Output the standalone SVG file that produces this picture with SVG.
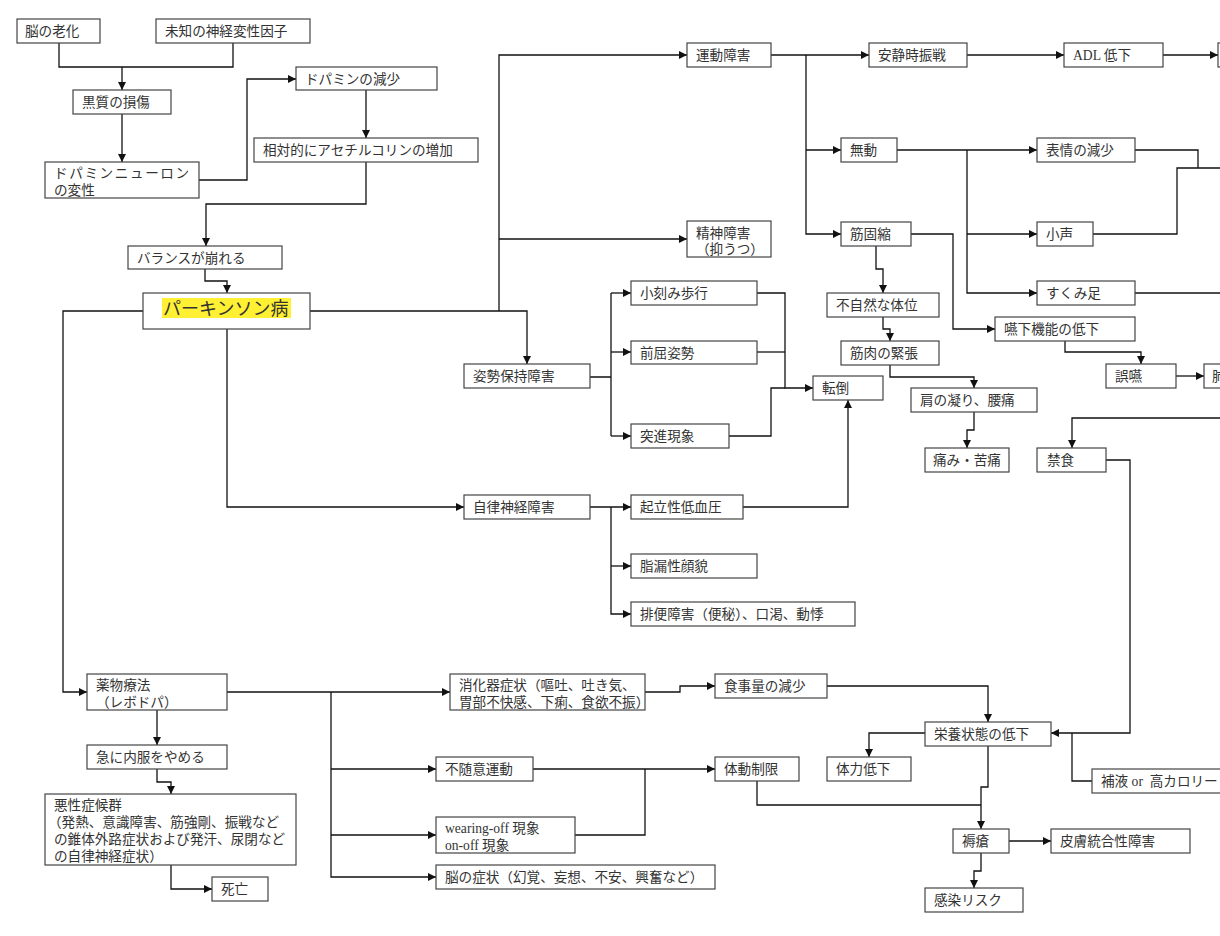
<svg xmlns="http://www.w3.org/2000/svg" width="1220" height="936" viewBox="0 0 1220 936">
<style>
.b{fill:#fff;stroke:#444;stroke-width:1.2}
.t{font-family:"Liberation Serif","Noto Sans CJK JP",sans-serif;font-size:13.6px;fill:#333}
.c{fill:none;stroke:#111;stroke-width:1.3}
.a{marker-end:url(#ah)}
</style>
<defs>
<marker id="ah" markerUnits="userSpaceOnUse" markerWidth="9" markerHeight="9" refX="8" refY="4" orient="auto"><path d="M0,0 L8,4 L0,8 z" fill="#111"/></marker>
</defs>
<rect width="1220" height="936" fill="#fff"/>
<g id="connectors">
<path class="c" d="M59,43 V67 H233 V43"/>
<path class="c a" d="M122,67 V90"/>
<path class="c a" d="M122,114 V162"/>
<path class="c a" d="M199,180 H247 V79 H296"/>
<path class="c a" d="M366,90 V138"/>
<path class="c a" d="M366,162 V204 H206 V246"/>
<path class="c a" d="M205,269 V281 H227 V293"/>
<path class="c a" d="M143,311 H63 V692 H87"/>
<path class="c a" d="M227,329 V507 H464"/>
<path class="c a" d="M310,311 H527 V364"/>
<path class="c a" d="M499,311 V55 H687"/>
<path class="c a" d="M499,239 H687"/>
<path class="c a" d="M771,55 H869"/>
<path class="c a" d="M806,55 V234 H841"/>
<path class="c a" d="M806,150 H841"/>
<path class="c a" d="M967,55 H1064"/>
<path class="c a" d="M1163,55 H1218"/>
<path class="c a" d="M897,150 H1037"/>
<path class="c a" d="M967,150 V293 H1037"/>
<path class="c a" d="M967,234 H1037"/>
<path class="c" d="M1135,150 H1198 V168"/>
<path class="c" d="M1093,234 H1177 V168 H1220"/>
<path class="c" d="M1135,293 H1220"/>
<path class="c a" d="M911,234 H953 V329 H995"/>
<path class="c a" d="M876,246 V269 H883 V293"/>
<path class="c a" d="M883,317 V329 H890 V341"/>
<path class="c a" d="M890,365 V377 H974 V388"/>
<path class="c a" d="M974,412 V430 H967 V448"/>
<path class="c a" d="M1065,341 V352 H1141 V364"/>
<path class="c a" d="M1176,376 H1204"/>
<path class="c a" d="M1220,418 H1072 V448"/>
<path class="c a" d="M1106,460 H1130 V733 H1051"/>
<path class="c" d="M1092,781 H1072 V733"/>
<path class="c" d="M590,377 H611 M611,293 V436"/>
<path class="c a" d="M611,293 H631"/>
<path class="c a" d="M611,352 H631"/>
<path class="c a" d="M611,436 H631"/>
<path class="c a" d="M757,293 H785 V388 H813"/>
<path class="c" d="M757,352 H785"/>
<path class="c" d="M729,436 H771 V388 H785"/>
<path class="c a" d="M590,507 H631"/>
<path class="c a" d="M611,507 V614 H631"/>
<path class="c a" d="M611,566 H631"/>
<path class="c a" d="M743,507 H848 V400"/>
<path class="c a" d="M227,692 H450"/>
<path class="c a" d="M331,692 V877 H436"/>
<path class="c a" d="M331,769 H436"/>
<path class="c a" d="M331,835 H436"/>
<path class="c a" d="M157,710 V745"/>
<path class="c a" d="M157,769 V782 H171 V794"/>
<path class="c a" d="M171,865 V889 H212"/>
<path class="c a" d="M645,692 H680 V686 H715"/>
<path class="c a" d="M827,686 H988 V722"/>
<path class="c a" d="M533,769 H715"/>
<path class="c" d="M575,835 H645 V769"/>
<path class="c" d="M757,781 V805 H981"/>
<path class="c a" d="M988,746 V787 H981 V829"/>
<path class="c a" d="M925,733 H869 V757"/>
<path class="c a" d="M1009,841 H1051"/>
<path class="c a" d="M981,853 V871 H974 V888"/>
</g>
<g id="n1"><rect class="b" x="17" y="19" width="83" height="24"/><text class="t" x="25" y="36">脳の老化</text></g>
<g id="n2"><rect class="b" x="156" y="19" width="154" height="24"/><text class="t" x="165" y="36">未知の神経変性因子</text></g>
<g id="n3"><rect class="b" x="73" y="90" width="98" height="24"/><text class="t" x="82" y="107">黒質の損傷</text></g>
<g id="n4"><rect class="b" x="45" y="162" width="154" height="36"/><text class="t" x="54" y="178" letter-spacing="1.6">ドパミンニューロン</text><text class="t" x="54" y="195">の変性</text></g>
<g id="n5"><rect class="b" x="296" y="67" width="141" height="23"/><text class="t" x="305" y="84">ドパミンの減少</text></g>
<g id="n6"><rect class="b" x="254" y="138" width="224" height="24"/><text class="t" x="263" y="155">相対的にアセチルコリンの増加</text></g>
<g id="n7"><rect class="b" x="128" y="246" width="154" height="23"/><text class="t" x="137" y="263">バランスが崩れる</text></g>
<g id="n8"><rect class="b" x="143" y="293" width="167" height="36"/><rect x="162" y="298" width="129" height="20" fill="#fff033"/><text class="t" x="163" y="315" style="font-size:18px">パーキンソン病</text></g>
<g id="n9"><rect class="b" x="687" y="43" width="84" height="24"/><text class="t" x="696" y="60">運動障害</text></g>
<g id="n10"><rect class="b" x="687" y="221" width="84" height="36"/><text class="t" x="696" y="238">精神障害</text><text class="t" x="696" y="254">（抑うつ）</text></g>
<g id="n11"><rect class="b" x="869" y="43" width="98" height="24"/><text class="t" x="878" y="60">安静時振戦</text></g>
<g id="n12"><rect class="b" x="1064" y="43" width="99" height="24"/><text class="t" x="1073" y="60">ADL 低下</text></g>
<g id="n13"><rect class="b" x="1218" y="43" width="20" height="24"/></g>
<g id="n14"><rect class="b" x="841" y="138" width="56" height="24"/><text class="t" x="850" y="155">無動</text></g>
<g id="n15"><rect class="b" x="841" y="222" width="70" height="24"/><text class="t" x="850" y="239">筋固縮</text></g>
<g id="n16"><rect class="b" x="1037" y="138" width="98" height="24"/><text class="t" x="1046" y="155">表情の減少</text></g>
<g id="n17"><rect class="b" x="1037" y="222" width="56" height="24"/><text class="t" x="1046" y="239">小声</text></g>
<g id="n18"><rect class="b" x="1037" y="281" width="98" height="24"/><text class="t" x="1046" y="298">すくみ足</text></g>
<g id="n19"><rect class="b" x="827" y="293" width="112" height="24"/><text class="t" x="836" y="310">不自然な体位</text></g>
<g id="n20"><rect class="b" x="995" y="317" width="140" height="24"/><text class="t" x="1004" y="334">嚥下機能の低下</text></g>
<g id="n21"><rect class="b" x="841" y="341" width="98" height="24"/><text class="t" x="850" y="358">筋肉の緊張</text></g>
<g id="n22"><rect class="b" x="813" y="376" width="70" height="24"/><text class="t" x="822" y="393">転倒</text></g>
<g id="n23"><rect class="b" x="911" y="388" width="126" height="24"/><text class="t" x="920" y="405">肩の凝り、腰痛</text></g>
<g id="n24"><rect class="b" x="925" y="448" width="84" height="24"/><text class="t" x="933" y="465">痛み・苦痛</text></g>
<g id="n25"><rect class="b" x="1106" y="364" width="70" height="24"/><text class="t" x="1115" y="381">誤嚥</text></g>
<g id="n26"><rect class="b" x="1204" y="364" width="30" height="24"/><text class="t" x="1212" y="381">肺</text></g>
<g id="n27"><rect class="b" x="1037" y="448" width="69" height="24"/><text class="t" x="1047" y="465">禁食</text></g>
<g id="n28"><rect class="b" x="464" y="364" width="126" height="24"/><text class="t" x="473" y="381">姿勢保持障害</text></g>
<g id="n29"><rect class="b" x="631" y="281" width="126" height="24"/><text class="t" x="640" y="298">小刻み歩行</text></g>
<g id="n30"><rect class="b" x="631" y="341" width="126" height="23"/><text class="t" x="640" y="358">前屈姿勢</text></g>
<g id="n31"><rect class="b" x="631" y="424" width="98" height="24"/><text class="t" x="640" y="441">突進現象</text></g>
<g id="n32"><rect class="b" x="464" y="495" width="126" height="24"/><text class="t" x="473" y="512">自律神経障害</text></g>
<g id="n33"><rect class="b" x="631" y="495" width="112" height="24"/><text class="t" x="640" y="512">起立性低血圧</text></g>
<g id="n34"><rect class="b" x="631" y="554" width="126" height="24"/><text class="t" x="640" y="571">脂漏性顔貌</text></g>
<g id="n35"><rect class="b" x="631" y="602" width="224" height="24"/><text class="t" x="640" y="619">排便障害（便秘）、口渇、動悸</text></g>
<g id="n36"><rect class="b" x="87" y="674" width="140" height="36"/><text class="t" x="96" y="690">薬物療法</text><text class="t" x="96" y="707">（レボドパ）</text></g>
<g id="n37"><rect class="b" x="87" y="745" width="140" height="24"/><text class="t" x="96" y="762">急に内服をやめる</text></g>
<g id="n38"><rect class="b" x="45" y="794" width="251" height="71"/><text class="t" x="54" y="810">悪性症候群</text><text class="t" x="48" y="827">（発熱、意識障害、筋強剛、振戦など</text><text class="t" x="54" y="844">の錐体外路症状および発汗、尿閉など</text><text class="t" x="54" y="861">の自律神経症状）</text></g>
<g id="n39"><rect class="b" x="212" y="877" width="56" height="24"/><text class="t" x="221" y="894">死亡</text></g>
<g id="n40"><rect class="b" x="450" y="674" width="195" height="36"/><text class="t" x="459" y="690">消化器症状（嘔吐、吐き気、</text><text class="t" x="459" y="707">胃部不快感、下痢、食欲不振）</text></g>
<g id="n41"><rect class="b" x="715" y="674" width="112" height="24"/><text class="t" x="724" y="691">食事量の減少</text></g>
<g id="n42"><rect class="b" x="436" y="757" width="97" height="24"/><text class="t" x="445" y="774">不随意運動</text></g>
<g id="n43"><rect class="b" x="436" y="817" width="139" height="36"/><text class="t" x="445" y="833">wearing-off 現象</text><text class="t" x="445" y="850">on-off 現象</text></g>
<g id="n44"><rect class="b" x="436" y="865" width="279" height="24"/><text class="t" x="445" y="882">脳の症状（幻覚、妄想、不安、興奮など）</text></g>
<g id="n45"><rect class="b" x="715" y="757" width="84" height="24"/><text class="t" x="724" y="774">体動制限</text></g>
<g id="n46"><rect class="b" x="925" y="722" width="126" height="24"/><text class="t" x="934" y="739">栄養状態の低下</text></g>
<g id="n47"><rect class="b" x="827" y="757" width="84" height="24"/><text class="t" x="836" y="774">体力低下</text></g>
<g id="n48"><rect class="b" x="1092" y="769" width="140" height="24"/><text class="t" x="1101" y="786">補液 or &#160;高カロリー</text></g>
<g id="n49"><rect class="b" x="953" y="829" width="56" height="24"/><text class="t" x="962" y="846">褥瘡</text></g>
<g id="n50"><rect class="b" x="1051" y="829" width="139" height="24"/><text class="t" x="1060" y="846">皮膚統合性障害</text></g>
<g id="n51"><rect class="b" x="925" y="888" width="98" height="24"/><text class="t" x="934" y="905">感染リスク</text></g>
</svg>
